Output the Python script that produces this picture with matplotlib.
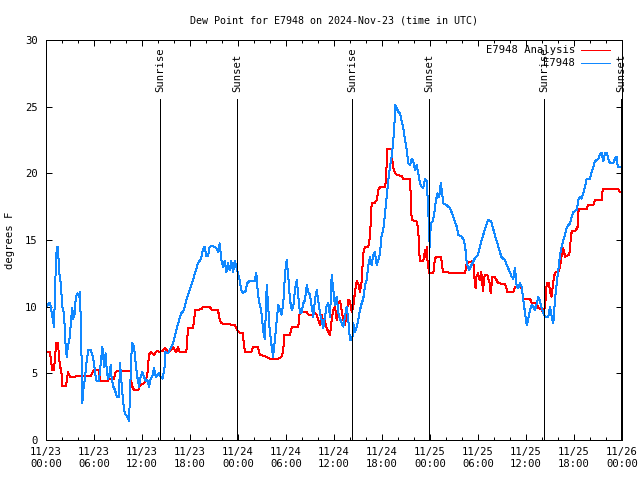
"""Dew point trace for station E7948, gnuplot-style."""

import matplotlib

matplotlib.use("Agg")
import matplotlib.dates as mdates
import matplotlib.pyplot as plt
import numpy as np
import pandas as pd

START = pd.Timestamp("2024-11-23 00:00")

# hours after START, dew point (F)
obs_hours = [
    0.0, 0.5, 0.79, 1.0, 1.21, 1.34, 1.5, 1.62, 1.84, 2.04, 2.25, 2.46, 2.59, 2.75,
    3.0, 3.09, 3.29, 3.41, 3.59, 3.71, 3.91, 4.12, 4.25, 4.34, 4.46, 4.54, 4.66, 4.84,
    4.96, 5.09, 5.29, 5.59, 5.79, 6.0, 6.21, 6.34, 6.62, 6.84, 7.04, 7.16, 7.25, 7.46,
    7.59, 7.75, 7.96, 8.09, 8.21, 8.41, 8.62, 8.84, 9.12, 9.25, 9.41, 9.59, 9.75, 9.96,
    10.16, 10.38, 10.5, 10.66, 10.79, 11.0, 11.21, 11.41, 11.62, 11.84, 12.04, 12.25,
    12.46, 12.66, 12.88, 13.09, 13.29, 13.5, 13.71, 14.12, 14.34, 14.56, 14.84, 14.91,
    15.25, 15.59, 15.88, 16.09, 16.29, 16.59, 16.91, 17.25, 17.54, 17.96, 18.38, 18.66,
    19.0, 19.34, 19.62, 19.84, 20.04, 20.25, 20.46, 20.88, 21.29, 21.5, 21.71, 21.91,
    22.12, 22.34, 22.54, 22.75, 22.96, 23.16, 23.38, 23.59, 23.79, 24.0, 24.21, 24.41,
    24.62, 24.91, 25.16, 25.46, 26.09, 26.29, 26.41, 26.59, 26.79, 27.0, 27.12, 27.34,
    27.46, 27.59, 27.75, 27.96, 28.16, 28.38, 28.62, 28.84, 29.04, 29.25, 29.46, 29.66,
    29.88, 30.09, 30.29, 30.5, 30.71, 30.91, 31.12, 31.34, 31.54, 31.75, 31.96, 32.16,
    32.38, 32.59, 32.79, 33.0, 33.21, 33.41, 33.62, 33.84, 34.04, 34.25, 34.46, 34.66,
    34.88, 35.09, 35.29, 35.5, 35.71, 35.91, 36.12, 36.34, 36.54, 36.75, 36.96, 37.16,
    37.38, 37.59, 37.79, 38.0, 38.29, 38.41, 38.62, 38.84, 39.04, 39.25, 39.46, 39.66,
    39.88, 40.09, 40.29, 40.5, 40.71, 40.91, 41.12, 41.34, 41.54, 41.75, 41.96, 42.16,
    42.38, 42.59, 42.79, 43.0, 43.21, 43.41, 43.54, 43.66, 43.84, 44.04, 44.25, 44.46,
    44.66, 44.88, 45.09, 45.29, 45.5, 45.71, 45.91, 46.12, 46.34, 46.54, 46.75, 46.96,
    47.16, 47.38, 47.59, 47.79, 47.88, 48.0, 48.09, 48.34, 48.54, 48.75, 48.96, 49.16,
    49.34, 49.46, 49.66, 50.09, 50.5, 50.91, 51.34, 51.54, 51.96, 52.25, 52.5, 52.59,
    52.88, 53.16, 53.59, 54.0, 54.41, 54.84, 55.25, 55.66, 56.09, 56.5, 56.91, 57.34,
    57.66, 58.21, 58.41, 58.62, 58.84, 59.04, 59.25, 59.46, 59.66, 59.88, 60.09, 60.29,
    60.5, 60.71, 60.91, 61.12, 61.34, 61.54, 61.75, 61.96, 62.16, 62.38, 62.79, 63.0,
    63.21, 63.41, 63.62, 63.84, 64.04, 64.25, 64.46, 64.66, 64.88, 65.09, 65.29, 65.5,
    65.71, 65.91, 66.34, 66.54, 66.75, 66.96, 67.16, 67.38, 67.59, 68.0, 68.21, 68.41,
    68.62, 68.84, 69.04, 69.25, 69.46, 69.66, 69.88, 70.09, 70.29, 70.5, 70.91, 71.12,
    71.34, 71.46, 71.75,
]
obs_dewpt = [
    10.0, 10.3, 9.25, 8.5, 12.75, 14.4, 14.5, 12.75, 11.75, 10.0, 9.5, 7.0, 6.25, 7.1,
    7.75, 8.75, 9.9, 9.1, 9.5, 10.6, 11.0, 10.75, 11.1, 9.0, 5.75, 2.75, 3.75, 4.5,
    5.25, 6.0, 6.75, 6.75, 6.4, 5.75, 4.75, 4.4, 4.4, 5.75, 7.0, 6.25, 5.5, 6.5,
    5.25, 4.6, 5.0, 5.6, 4.6, 4.0, 3.75, 3.25, 3.25, 5.75, 4.5, 3.25, 2.25, 1.9,
    1.75, 1.4, 3.5, 6.25, 7.25, 7.0, 5.75, 4.75, 4.0, 4.75, 5.1, 4.75,
    4.4, 4.5, 4.0, 4.6, 4.75, 5.4, 4.75, 5.0, 4.75, 4.6, 5.5, 6.6,
    6.5, 6.9, 7.25, 7.75, 8.25, 8.9, 9.5, 9.75, 10.5, 11.25, 12.0, 12.6,
    13.25, 13.55, 14.25, 14.5, 13.8, 13.8, 14.5, 14.55, 14.4, 14.1, 14.75, 13.5,
    13.0, 13.4, 12.6, 13.25, 12.75, 13.4, 12.6, 13.4, 13.0, 12.5, 12.0, 11.25,
    11.05, 11.1, 11.75, 11.95, 11.95, 12.55, 11.5, 10.5, 10.0, 9.25, 8.25, 7.6,
    9.25, 11.6, 10.25, 8.25, 7.25, 6.25, 7.5, 9.0, 10.1, 9.75, 9.4, 10.25,
    12.5, 13.5, 12.25, 10.5, 9.75, 10.0, 11.25, 12.0, 10.75, 9.5, 9.6, 10.25,
    10.5, 11.6, 11.1, 10.9, 10.0, 9.25, 10.5, 11.25, 10.4, 9.5, 9.0, 8.4,
    9.25, 10.1, 10.25, 9.25, 12.4, 11.25, 10.1, 10.75, 9.5, 9.1, 8.75, 8.5,
    9.25, 10.0, 9.0, 7.5, 7.5, 8.75, 8.1, 8.5, 9.0, 9.75, 10.25, 10.6,
    11.6, 12.0, 13.1, 13.75, 13.1, 13.9, 14.1, 13.1, 13.5, 14.0, 15.4, 15.75,
    17.0, 18.25, 19.5, 20.5, 21.25, 22.5, 23.5, 25.1, 24.9, 24.6, 24.5, 23.9,
    23.4, 22.5, 21.75, 20.75, 20.6, 21.1, 20.9, 20.25, 20.6, 20.0, 19.25, 19.0,
    18.9, 19.6, 19.4, 17.25, 15.25, 14.5, 16.25, 16.4, 17.0, 18.0, 18.5, 18.25,
    19.25, 18.75, 17.75, 17.6, 17.4, 16.75, 16.0, 15.4, 15.25, 15.0, 14.0, 13.25,
    12.75, 13.1, 13.6, 13.9, 14.9, 15.75, 16.5, 16.4, 15.4, 14.6, 13.75, 13.5,
    13.05, 12.25, 12.1, 12.9, 11.5, 11.4, 11.75, 11.5, 10.5, 9.5, 8.6, 9.1,
    9.75, 10.1, 10.0, 9.75, 10.25, 10.75, 10.4, 9.9, 9.5, 9.25, 9.25, 10.0,
    9.25, 8.75, 10.5, 11.75, 12.75, 13.9, 14.5, 15.0, 15.4, 15.9, 16.1, 16.25,
    16.75, 17.1, 17.25, 18.0, 18.25, 18.1, 18.5, 19.0, 19.6, 19.6, 20.1, 20.5,
    20.9, 21.0, 21.1, 21.4, 21.55, 20.9, 21.55, 21.55, 21.1, 20.75, 20.75, 21.1,
    21.25, 20.5, 20.5,
]

ana_hours = [
    0.0, 0.5, 0.66, 0.79, 1.0, 1.12, 1.29, 1.5, 1.62, 1.75, 1.91, 2.04, 2.46, 2.59,
    2.75, 2.88, 3.09, 3.59, 3.71, 5.59, 5.79, 6.0, 6.62, 6.75, 7.04, 7.66, 7.88, 8.5,
    8.71, 9.12, 10.59, 10.71, 11.0, 11.54, 11.75, 12.25, 12.46, 12.66, 12.88, 13.09,
    13.5, 13.71, 13.91, 14.12, 14.62, 14.84, 15.25, 15.66, 15.88, 16.09, 16.29, 16.5,
    16.71, 17.54, 17.75, 18.38, 18.66, 19.41, 19.62, 20.46, 20.75, 21.5, 21.71, 21.91,
    22.75, 23.59, 23.79, 24.0, 24.62, 24.75, 24.91, 25.66, 25.88, 26.5, 26.71, 27.54,
    27.96, 29.0, 29.46, 29.66, 29.79, 30.5, 30.71, 31.54, 31.66, 31.96, 32.59, 32.79,
    33.41, 33.62, 33.84, 34.04, 34.25, 34.46, 34.66, 34.88, 35.09, 35.29, 35.5, 35.71,
    35.91, 36.12, 36.34, 36.54, 36.75, 36.96, 37.16, 37.38, 37.59, 37.79, 38.0, 38.21,
    38.41, 38.62, 38.84, 39.04, 39.25, 39.46, 39.66, 39.88, 40.29, 40.5, 40.71, 41.12,
    41.34, 41.54, 41.75, 42.38, 42.5, 42.66, 43.21, 43.34, 43.62, 43.84, 44.46, 44.66,
    45.5, 45.62, 45.71, 46.34, 46.54, 46.62, 46.75, 47.16, 47.38, 47.5, 47.59, 47.71,
    47.91, 48.41, 48.62, 48.84, 49.38, 49.59, 49.66, 50.5, 52.38, 52.59, 53.21, 53.41,
    53.54, 53.69, 53.81, 54.0, 54.21, 54.41, 54.62, 54.84, 55.16, 55.46, 55.59, 55.79,
    56.12, 56.54, 57.38, 57.69, 58.41, 58.62, 59.38, 59.54, 59.66, 60.5, 60.71, 61.34,
    61.54, 61.96, 62.16, 62.38, 62.59, 62.88, 63.0, 63.21, 63.41, 63.62, 64.04, 64.25,
    64.38, 64.54, 64.66, 64.88, 65.38, 65.5, 65.62, 65.79, 66.21, 66.46, 66.54, 66.62,
    67.59, 67.71, 68.41, 68.62, 69.46, 69.59, 71.54, 71.75,
]
ana_dewpt = [
    6.6, 6.6, 5.75, 5.25, 5.25, 6.25, 7.3, 7.3, 6.25, 5.5, 5.25, 4.05, 4.05, 4.4,
    5.1, 4.9, 4.7, 4.7, 4.8, 4.8, 5.05, 5.25, 5.25, 4.5, 4.4, 4.4, 4.6, 4.6,
    5.1, 5.2, 5.2, 4.1, 3.75, 3.75, 4.1, 4.25, 4.5, 4.9, 6.4, 6.6,
    6.4, 6.6, 6.7, 6.6, 6.7, 6.9, 6.6, 6.75, 7.0, 6.75, 6.6, 6.95,
    6.6, 6.6, 8.4, 8.4, 9.75, 9.8, 10.0, 10.0, 9.75, 9.75, 9.0, 8.75,
    8.7, 8.6, 8.4, 8.1, 8.0, 7.0, 6.6, 6.6, 6.95, 6.95, 6.4, 6.25,
    6.1, 6.1, 6.25, 6.75, 7.9, 7.9, 8.45, 8.45, 9.4, 9.6, 9.6, 9.4,
    9.4, 9.5, 9.4, 9.0, 8.6, 9.4, 8.9, 8.9, 8.4, 8.1, 7.9, 9.0,
    9.75, 10.0, 9.0, 10.25, 10.4, 9.75, 9.0, 8.6, 9.6, 10.5, 10.4, 9.6,
    10.0, 11.1, 11.9, 11.75, 11.1, 11.9, 14.0, 14.5, 14.5, 15.25, 17.8, 17.8,
    18.0, 18.75, 18.95, 18.95, 19.5, 21.8, 21.8, 20.6, 20.0, 19.9, 19.8, 19.55,
    19.55, 18.0, 16.5, 16.4, 15.75, 14.25, 13.4, 13.4, 14.25, 13.75, 14.5, 13.25,
    12.5, 12.5, 13.6, 13.75, 13.75, 12.75, 12.6, 12.55, 12.5, 13.25, 13.4, 13.4,
    12.25, 11.4, 12.25, 12.5, 12.0, 12.6, 11.2, 12.4, 12.4, 11.75, 11.0, 12.2,
    12.2, 11.75, 11.7, 11.1, 11.1, 11.5, 11.5, 11.1, 10.6, 10.6, 10.25, 10.25,
    9.9, 9.8, 9.5, 10.0, 11.75, 11.75, 11.1, 10.75, 11.9, 12.55, 12.6, 13.0,
    13.5, 14.25, 14.4, 13.75, 13.9, 14.25, 15.4, 15.7, 15.7, 16.0, 17.1, 17.3,
    17.3, 17.6, 17.6, 18.0, 18.0, 18.8, 18.8, 18.6,
]

sun_hours = [14.25, 23.875, 38.25, 47.875, 62.25, 71.875]
sun_labels = ["Sunrise", "Sunset", "Sunrise", "Sunset", "Sunrise", "Sunset"]

RED = "#ff0000"
BLUE = "#1188ff"
FONT = "DejaVu Sans Mono"
FS = 7.6
LW = 0.72  # one pixel at 100 dpi


def to_time(hours):
    return START + pd.to_timedelta(np.asarray(hours), unit="h")


plt.rcParams.update({"font.family": FONT, "font.size": FS})

fig = plt.figure(figsize=(6.4, 4.8), dpi=100)
ax = fig.add_axes([46 / 640, 40 / 480, 576 / 640, 400 / 480])

ax.plot(to_time(ana_hours), ana_dewpt, color=RED, linewidth=LW, antialiased=False)
ax.plot(to_time(obs_hours), obs_dewpt, color=BLUE, linewidth=LW, antialiased=False)

sun_times = to_time(sun_hours)
ax.vlines(sun_times, 0, 25.6, color="black", linewidth=LW, antialiased=False)
for t, lab in zip(sun_times, sun_labels):
    ax.text(t, 26.1, lab, rotation=90, ha="center", va="bottom", clip_on=False)

ax.set_xlim(START, START + pd.Timedelta(hours=72))
ax.set_ylim(0, 30)
ax.set_yticks(np.arange(0, 31, 5))
ax.xaxis.set_major_locator(mdates.HourLocator(byhour=range(0, 24, 6)))
ax.xaxis.set_minor_locator(mdates.HourLocator(byhour=range(0, 24, 2)))
ax.xaxis.set_major_formatter(mdates.DateFormatter("%m/%d\n%H:%M"))
ax.tick_params(which="both", direction="in", top=True, right=True, width=LW)
ax.tick_params(which="major", length=4.5, pad=5)
ax.tick_params(which="minor", length=2.2)
ax.tick_params(axis="y", pad=6)
for s in ax.spines.values():
    s.set_linewidth(LW)

ax.set_title("Dew Point for E7948 on 2024-Nov-23 (time in UTC)", fontsize=7.2, pad=12)
ax.set_ylabel("degrees F", labelpad=7)

# key, gnuplot style: right-aligned text, sample line to the right
for row, (label, color) in enumerate([("E7948 Analysis", RED), ("E7948", BLUE)]):
    y = 0.975 - row * 0.0325
    ax.text(0.918, y, label, transform=ax.transAxes, ha="right", va="center")
    ax.plot([0.929, 0.979], [y, y], color=color, linewidth=LW,
            transform=ax.transAxes, antialiased=False)

fig.savefig("out.png", dpi=100, facecolor="white")
